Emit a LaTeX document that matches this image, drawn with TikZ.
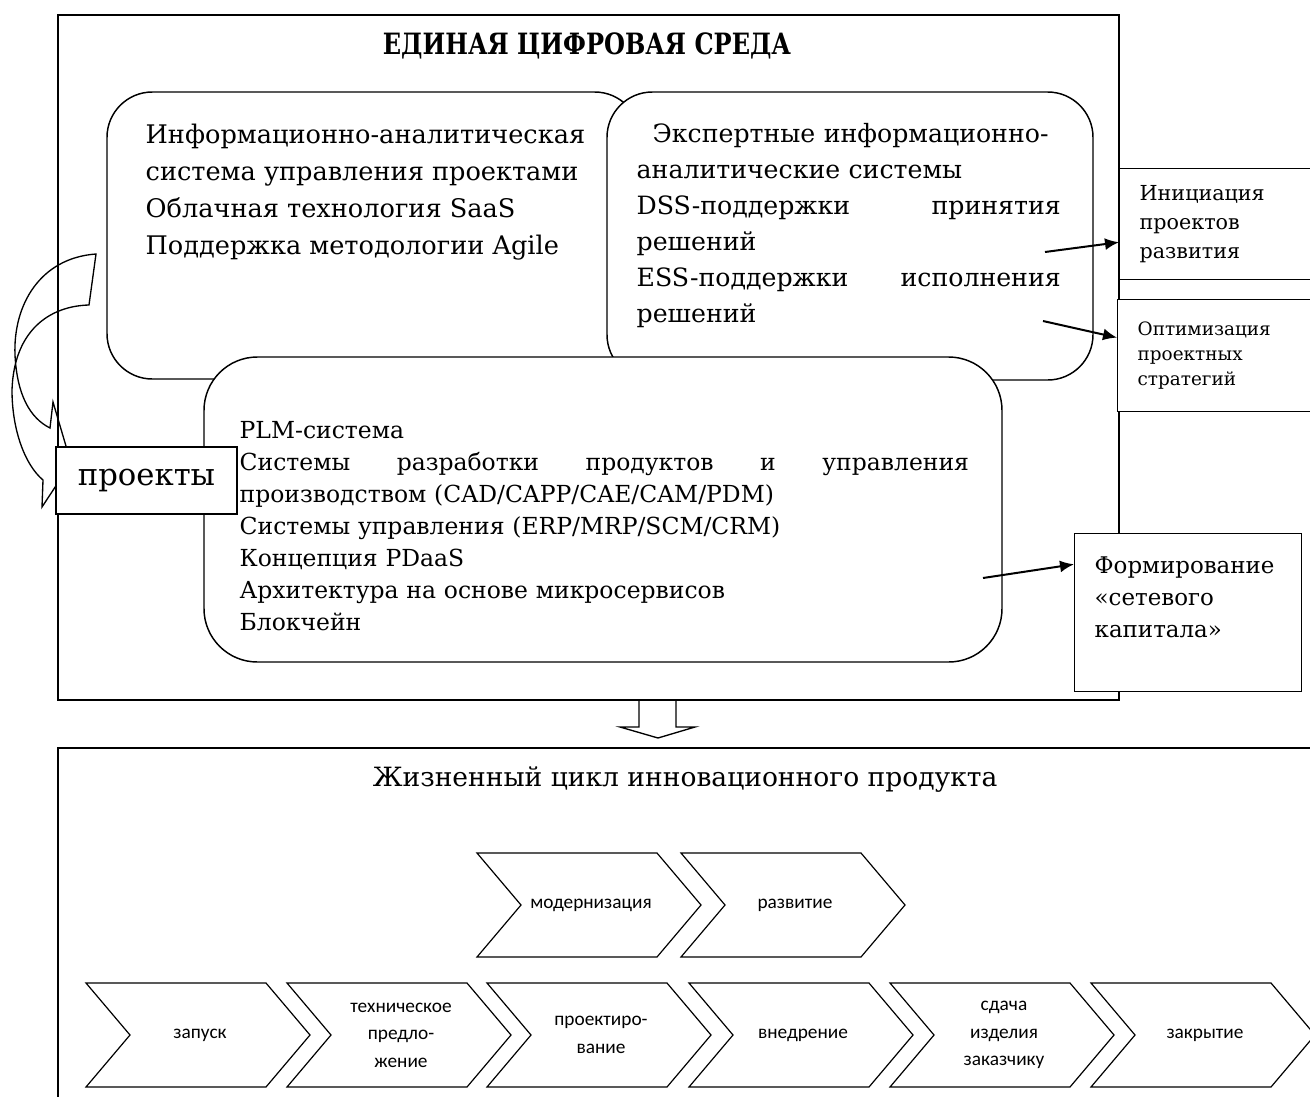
\documentclass[tikz,border=0pt]{standalone}
\usepackage{fontspec}
\setmainfont{DejaVu Serif}
\newfontfamily\calfont{Carlito}
\usepackage{tikz}
\usetikzlibrary{arrows.meta,calc,positioning}

\begin{document}
\begin{tikzpicture}[x=0.75pt,y=-0.75pt,line width=1pt]
    \tikzstyle{frame}=[draw, line width=1.1pt]
    \tikzstyle{rbox}=[draw, fill=white, rounded corners=34pt, line width=1.1pt]
    \tikzstyle{txt}=[inner sep=0pt, align=left, anchor=north west]
    \tikzstyle{side}=[draw, fill=white, text width=140pt, inner xsep=15pt, inner ysep=0pt, align=left, anchor=north west]
    \tikzstyle{chev}=[draw, line width=0.9pt, line join=miter]
    \tikzstyle{stage}=[align=center, font=\calfont\fontsize{14.5}{20.6}\selectfont]
    \tikzstyle{link}=[-{Latex[length=10.5pt,width=9pt]}, line width=1.5pt]

    \useasboundingbox (0,0) rectangle (1310,1096);
    \clip (0,0) rectangle (1310,1096);

    % unified digital environment
    \draw[frame] (58,15) rectangle (1119,700);
    \node[font=\fontsize{22}{26}\selectfont] (env) at (587,46) {\scalebox{0.82}[1]{\bfseries ЕДИНАЯ ЦИФРОВАЯ СРЕДА}};

    \draw[rbox] (107,92) rectangle (640,379);
    \node[txt, font=\fontsize{19.2}{27.75}\selectfont] (ias) at (145,123)
        {Информационно-аналитическая\\система управления проектами\\Облачная технология SaaS\\Поддержка методологии Agile};

    \draw[rbox] (607,92) rectangle (1093,380);
    \node[txt, text width=318pt, font=\fontsize{18.9}{27}\selectfont] (expert) at (636,123)
        {\hspace*{12pt}Экспертные информационно-\\аналитические системы\\DSS-поддержки\hfill принятия\\решений\\ESS-поддержки\hfill исполнения\\решений};

    \draw[rbox, rounded corners=40pt] (204,357) rectangle (1002,662);
    \node[txt, text width=547pt, font=\fontsize{17.6}{24}\selectfont] (plm) at (239,421)
        {PLM-система\\Системы\hfill разработки\hfill продуктов\hfill и\hfill управления\\производством (CAD/CAPP/CAE/CAM/PDM)\\Системы управления (ERP/MRP/SCM/CRM)\\Концепция PDaaS\\Архитектура на основе микросервисов\\Блокчейн};

    % curved arrow round the projects
    \draw (96,254) .. controls (40,258) and (13,305) .. (15,355)
        .. controls (17,395) and (30,418) .. (50,428) -- (53,402) -- (71,463)
        -- (42,507) -- (43,480) .. controls (25,465) and (12,430) .. (12,390)
        .. controls (14,330) and (50,306) .. (89,305) -- cycle;
    \node[draw, fill=white, minimum width=135.75pt, minimum height=50.25pt, inner sep=0pt,
        font=\fontsize{23}{26}\selectfont] (proj) at (146.5,480.5) {проекты};

    % results
    \node[side, minimum height=83.25pt, font=\fontsize{15.5}{21.75}\selectfont] (init) at (1119,168)
        {Инициация\\проектов\\развития};
    \node[side, minimum height=84pt, font=\fontsize{13.8}{18.75}\selectfont] (opt) at (1117,299)
        {Оптимизация\\проектных\\стратегий};
    \node[side, minimum height=118.5pt, font=\fontsize{17.2}{24}\selectfont] (form) at (1074,533)
        {Формирование\\«сетевого\\капитала»\\\mbox{}};

    \coordinate (a1) at (1045,252);
    \coordinate (a2) at (1043,321);
    \coordinate (a3) at (983,578);
    \draw[link] (a1) -- (init.189);
    \draw[link] (a2) -- (opt.171);
    \draw[link] (a3) -- (form.157);

    % hollow arrow down
    \draw (639,700) -- (639,727) -- (620,727) -- (658,738) -- (695,727) -- (676,727) -- (676,700);

    % life cycle
    \draw[frame] (58,748) rectangle (1340,1130);
    \node[font=\fontsize{19.9}{24}\selectfont] (lc) at (685,780) {Жизненный цикл инновационного продукта};

    \foreach \x/\nm/\lbl in {477/modern/модернизация, 681/razv/развитие} {
        \draw[chev] (\x,853) -- ++(180,0) -- ++(44,52) -- ++(-44,52) -- ++(-180,0) -- ++(44,-52) -- cycle;
        \node[stage] (\nm) at (\x+114,905) {\lbl};
    }
    \foreach \x/\nm/\lbl in {86/zap/запуск, 287/tech/{техническое\\предло-\\жение}, 487/design/{проектиро-\\вание},
        689/vnedr/внедрение, 890/sdacha/{сдача\\изделия\\заказчику}, 1091/zakr/закрытие} {
        \draw[chev] (\x,983) -- ++(180,0) -- ++(44,52) -- ++(-44,52) -- ++(-180,0) -- ++(44,-52) -- cycle;
        \node[stage] (\nm) at (\x+114,1035) {\lbl};
    }
\end{tikzpicture}
\end{document}
